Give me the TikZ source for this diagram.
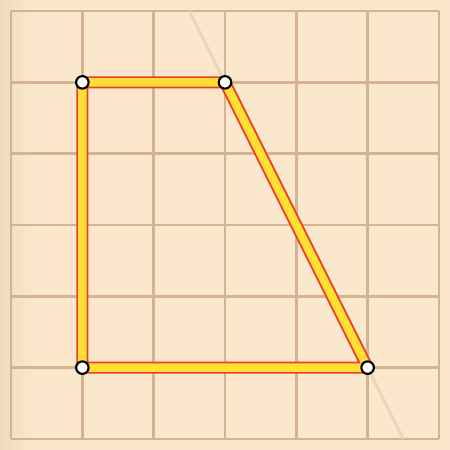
\documentclass[tikz,border=0pt]{standalone}
\usepackage{xcolor}
\usepackage{tikz}
\definecolor{paper}{HTML}{FBE7CC}
\definecolor{paperedge}{HTML}{F0DABB}
\definecolor{gridtan}{HTML}{D5B294}
\definecolor{guide}{HTML}{E8D4B8}
\definecolor{edgered}{HTML}{F03C2A}
\definecolor{edgeyellow}{HTML}{FFE033}
\tikzset{
  sheet/.style={draw=gridtan, line width=1.1pt},
  rim/.style={draw=edgered, line width=4.8pt, line join=round},
  core/.style={draw=edgeyellow, line width=3.3pt, line join=round},
  vtx/.style={circle, draw=black, fill=white, line width=0.85pt, inner sep=0pt, minimum size=5pt}
}
\begin{document}
\begin{tikzpicture}[scale=1.0, >=stealth]
  \useasboundingbox (-0.155,-0.155) rectangle (6.155,6.155);
  \fill[paper] (-0.155,-0.155) rectangle (6.155,6.155);
  \shade[left color=paperedge, right color=paper] (-0.155,-0.155) rectangle (0.3,6.155);
  % grid
  \draw[sheet] (0,0) grid (6,6);
  % corners of the quadrilateral
  \coordinate (A) at (1,5);
  \coordinate (B) at (3,5);
  \coordinate (C) at (5,1);
  \coordinate (D) at (1,1);
  % faint extension of the slanted side
  \coordinate (G1) at (2.5,6);
  \coordinate (G2) at (5.5,0);
  \draw[guide, line width=1.1pt] (G1) -- (G2);
  \draw[rim] (A) -- (B) -- (C) -- (D) -- cycle;
  \draw[core] (A) -- (B) -- (C) -- (D) -- cycle;
  \foreach \p in {A,B,C,D}
    \node[vtx] (n\p) at (\p) {};
\end{tikzpicture}
\end{document}
